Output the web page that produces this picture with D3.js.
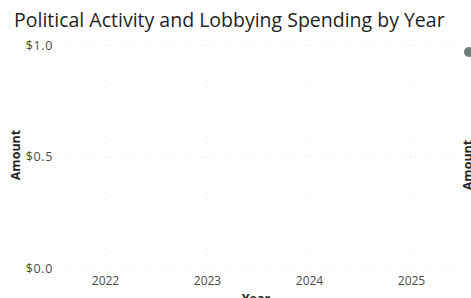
<!DOCTYPE html>
<html>
<head>
<meta charset="utf-8">
<script src="https://cdn.jsdelivr.net/npm/d3@7"></script>
<style>
  body { margin: 0; background: #fff; }
  svg { display: block; }
</style>
</head>
<body>
<svg id="chart" width="471" height="298"></svg>
<script>
// data: the visual has no points, only the axis frame
const years = [2022, 2023, 2024, 2025];
const amounts = [null, null, null, null];
const yTicks = [0, 0.5, 1.0];

const svg = d3.select("#chart");

const x = d3.scalePoint().domain(years).range([54, 462]).padding(0.5);
const y = d3.scaleLinear().domain([0, 1]).range([268, 45]);

const fontMain = "'Open Sans', 'DejaVu Sans', sans-serif";

// title
svg.append("text")
    .attr("x", 14)
    .attr("y", 27)
    .attr("font-family", fontMain)
    .attr("font-size", 19.5)
    .attr("font-weight", 500)
    .attr("fill", "#1f1f1f")
    .text("Political Activity and Lobbying Spending by Year");

// grid
let grid = svg.append("g").attr("class", "grid");
grid.selectAll(".hg")
    .data(yTicks)
    .enter()
    .append("line")
    .attr("class", "hg")
    .attr("x1", 60).attr("x2", 462)
    .attr("y1", (d) => y(d)).attr("y2", (d) => y(d))
    .style("stroke", "#e6e6e6")
    .style("stroke-width", 1)
    .style("stroke-dasharray", "1,4");

grid.selectAll(".vg")
    .data(years)
    .enter()
    .append("line")
    .attr("class", "vg")
    .attr("x1", (d) => x(d)).attr("x2", (d) => x(d))
    .attr("y1", y(1)).attr("y2", y(0))
    .style("stroke", "#e6e6e6")
    .style("stroke-width", 1)
    .style("stroke-dasharray", "1,6");

// y axis labels
const yAxis = d3.axisLeft(y)
    .tickValues(yTicks)
    .tickSize(0)
    .tickPadding(0)
    .tickFormat((d) => "$" + d3.format(".1f")(d));

svg.append("g")
    .attr("transform", "translate(53,0)")
    .call(yAxis)
    .call((g) => g.select(".domain").remove())
    .selectAll("text")
    .attr("font-family", fontMain)
    .attr("font-size", 12.5)
    .attr("letter-spacing", 0.6)
    .attr("fill", "#4a4a4a");

// x axis labels
const xAxis = d3.axisBottom(x).tickSize(0).tickPadding(8);

svg.append("g")
    .attr("transform", "translate(0,268)")
    .call(xAxis)
    .call((g) => g.select(".domain").remove())
    .selectAll("text")
    .attr("font-family", fontMain)
    .attr("font-size", 12)
    .attr("fill", "#4a4a4a");

// axis titles
svg.append("text")
    .attr("transform", "translate(20,155) rotate(-90)")
    .attr("text-anchor", "middle")
    .attr("font-family", fontMain)
    .attr("font-size", 12.5)
    .attr("font-weight", 700)
    .attr("fill", "#252423")
    .text("Amount");

svg.append("text")
    .attr("x", 256)
    .attr("y", 303)
    .attr("text-anchor", "middle")
    .attr("font-family", fontMain)
    .attr("font-size", 12.5)
    .attr("font-weight", 700)
    .attr("fill", "#252423")
    .text("Year");

// series (empty)
const line = d3.line()
    .defined((d) => d != null)
    .x((d, i) => x(years[i]))
    .y((d) => y(d));

svg.append("path")
    .datum(amounts)
    .attr("d", line)
    .style("fill", "none")
    .style("stroke", "#118dff")
    .style("stroke-width", 2);

// clipped neighbour visual on the right edge
svg.append("circle")
    .attr("cx", 469)
    .attr("cy", 52)
    .attr("r", 5)
    .style("fill", "#707a78");

svg.append("text")
    .attr("transform", "translate(472,165) rotate(-90)")
    .attr("text-anchor", "middle")
    .attr("font-family", fontMain)
    .attr("font-size", 12.5)
    .attr("font-weight", 700)
    .attr("fill", "#252423")
    .text("Amount");
</script>
</body>
</html>
